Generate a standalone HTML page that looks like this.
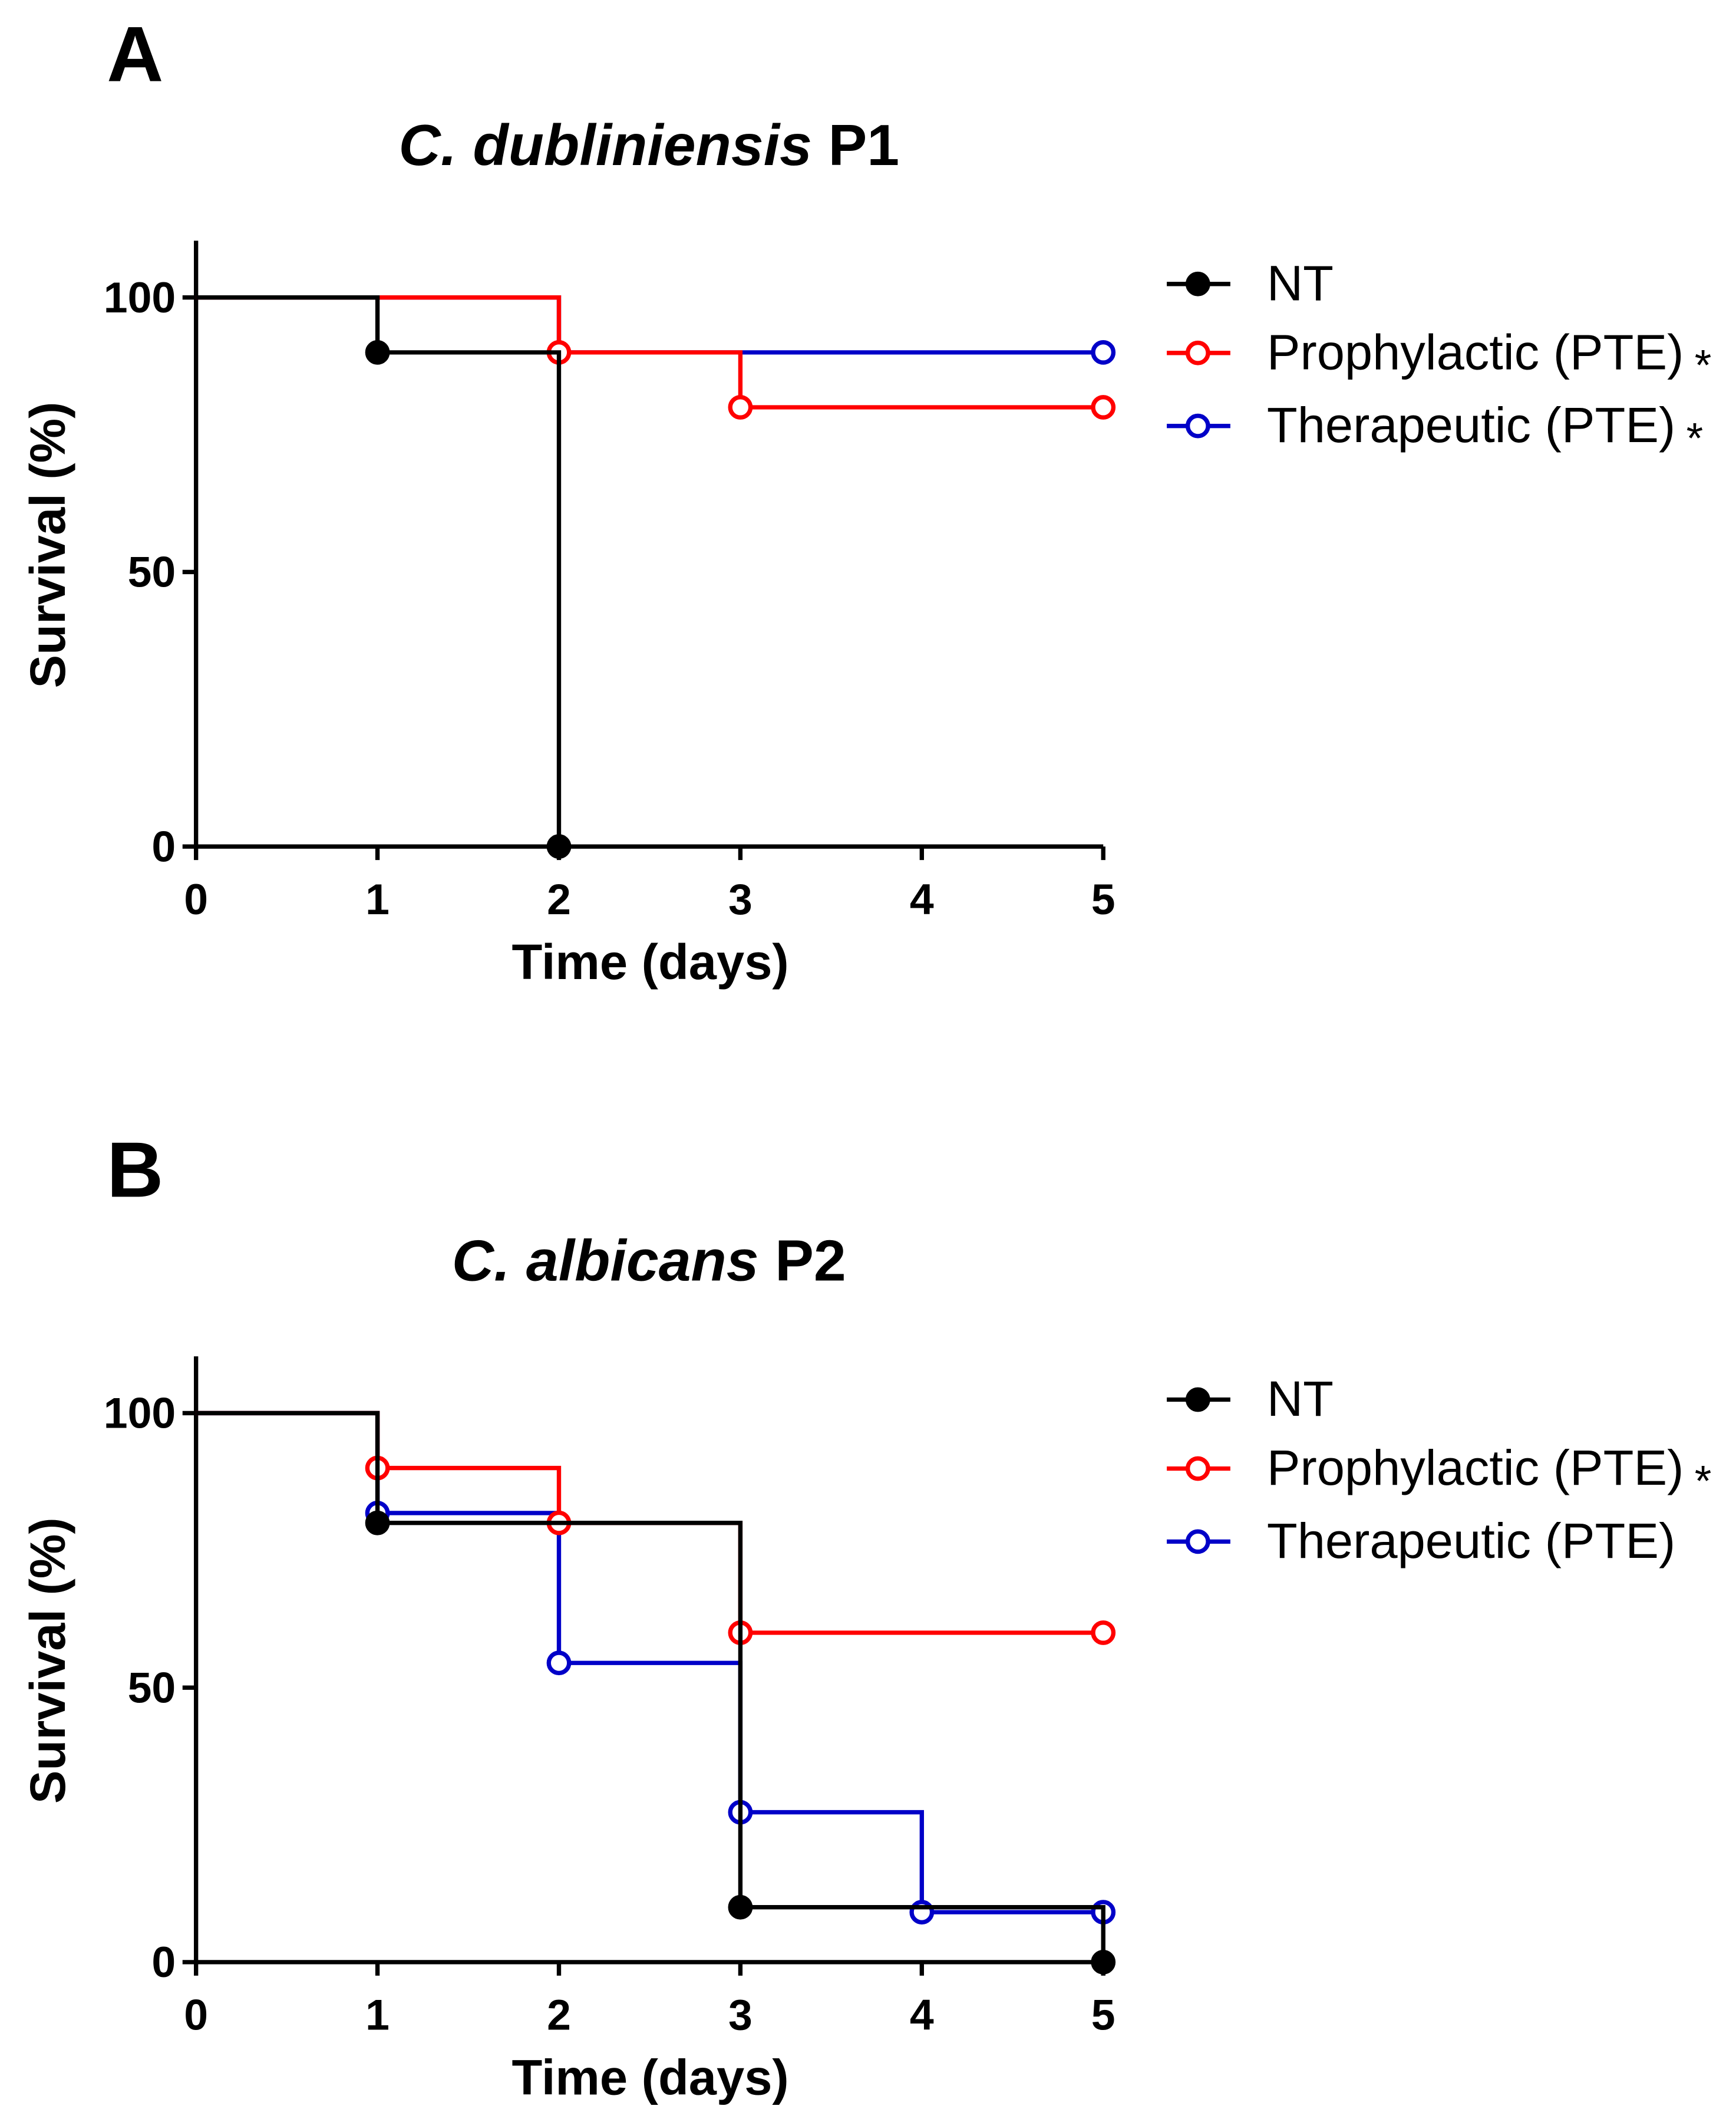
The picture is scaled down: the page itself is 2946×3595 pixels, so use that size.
<!DOCTYPE html>
<html><head><meta charset="utf-8"><style>
html,body{margin:0;padding:0;background:#fff;}
svg{display:block;font-family:"Liberation Sans",Arial,sans-serif;}
</style></head><body>
<svg id="fig" width="2946" height="3595" viewBox="0 0 1284 1567" preserveAspectRatio="none" xmlns="http://www.w3.org/2000/svg"></svg>
<script>
const days = [0,1,2,3,4,5];
const yTicks = [0,50,100];
const aTitle = ["C. dubliniensis","P1"];
const bTitle = ["C. albicans","P2"];
const aNT_t = [0,1,2];       const aNT_v = [100,90,0];
const aPro_t = [0,2,3,5];    const aPro_v = [100,90,80,80];
const aThe_t = [0,2,5];      const aThe_v = [100,90,90];
const bNT_t = [0,1,3,5];     const bNT_v = [100,80,10,0];
const bPro_t = [0,1,2,3,5];  const bPro_v = [100,90,80,60,60];
const bThe_t = [0,1,2,3,4,5]; const bThe_v = [100,81.8,54.5,27.3,9.1,9.1];
const aMarkNT = [1,2]; const aMarkPro=[2,3,5]; const aMarkThe=[5];
const bMarkNT = [1,3,5]; const bMarkPro=[1,2,3,5]; const bMarkThe=[1,2,3,4,5];
const aLegend = ["NT","Prophylactic (PTE)","Therapeutic (PTE)"];
const aStar = [false,true,true];
const bStar = [false,true,false];

const NS="http://www.w3.org/2000/svg";
const svg=document.getElementById('fig');
function mk(tag,attrs,parent){const e=document.createElementNS(NS,tag);for(const k in attrs)e.setAttribute(k,attrs[k]);(parent||svg).appendChild(e);return e;}

function panel(letter,title,top,series,legend,stars,key){
  const g=mk('g',{});
  
  
  const x0=145,x1=816,y100=top+220,y0=top+626;
  const X=d=>x0+(x1-x0)*d/5;
  const Y=v=>y0-(y0-y100)*v/100;
  let t=mk('text',{x:79,y:top+60,'font-size':58,'font-weight':'bold'},g);t.textContent=letter;
  
  
  t=mk('text',{x:480,y:top+122,'font-size':43,'font-weight':'bold','text-anchor':'middle'},g);
  
  
  const s1=mk('tspan',{'font-style':'italic'},t);s1.textContent=title[0]+' ';
  const s2=mk('tspan',{},t);s2.textContent=title[1];
  let ax=mk('path',{d:`M${x0} ${top+178} V${y0} H${x1}`,stroke:'#000','stroke-width':3.2,fill:'none'},g);
  
  
  days.forEach(d=>{
    mk('line',{x1:X(d),x2:X(d),y1:y0,y2:y0+10,stroke:'#000','stroke-width':3.2},g);
    const tt=mk('text',{x:X(d),y:y0+50,'font-size':32,'font-weight':'bold','text-anchor':'middle'},g);
    tt.textContent=d;
    
    
  });
  yTicks.forEach(v=>{
    mk('line',{x1:x0-10,x2:x0,y1:Y(v),y2:Y(v),stroke:'#000','stroke-width':3.2},g);
    const tt=mk('text',{x:x0-15,y:Y(v)+11,'font-size':32,'font-weight':'bold','text-anchor':'end'},g);
    tt.textContent=v;
    
    
  });
  t=mk('text',{x:481,y:top+724,'font-size':37,'font-weight':'bold','text-anchor':'middle'},g);t.textContent='Time (days)';
  
  
  t=mk('text',{x:0,y:0,'font-size':37,'font-weight':'bold','text-anchor':'middle',transform:`translate(48 ${top+403}) rotate(-90)`},g);t.textContent='Survival (%)';
  
  
  [2,1,0].forEach(i=>{
    const s=series[i];
    let d=`M${X(s.t[0])} ${Y(s.v[0])}`;
    for(let k=1;k<s.t.length;k++){d+=` H${X(s.t[k])} V${Y(s.v[k])}`;}
    const p=mk('path',{d,stroke:s.c,'stroke-width':3.2,fill:'none'},g);
    
    
    s.m.forEach(md=>{
      const idx=s.t.indexOf(md);let val;
      if(idx>=0) val=s.v[idx]; else {let j=0;for(let k=0;k<s.t.length;k++) if(s.t[k]<=md) j=k; val=s.v[j];}
      const c=mk('circle',{cx:X(md),cy:Y(val),r:7.5,fill:s.fill?s.c:'#fff',stroke:s.c,'stroke-width':3.2},g);
      
      
    });
  });
  const ly=[top+210,top+261,top+315];
  legend.forEach((name,i)=>{
    const s=series[i];
    const lg=mk('g',{},g);
    
    
    mk('line',{x1:863,x2:910,y1:ly[i],y2:ly[i],stroke:s.c,'stroke-width':3.2},lg);
    mk('circle',{cx:886,cy:ly[i],r:7.5,fill:s.fill?s.c:'#fff',stroke:s.c,'stroke-width':3.2},lg);
    const tx=mk('text',{x:937,y:ly[i]+12,'font-size':37},lg);tx.textContent=name;
    if(stars[i]){const st=mk('tspan',{'font-size':32,dx:8,dy:8},tx);st.textContent='*';}
  });
}
panel('A',aTitle,0,[
  {n:'nt',t:aNT_t,v:aNT_v,m:aMarkNT,c:'#000',fill:true},
  {n:'prophylactic',t:aPro_t,v:aPro_v,m:aMarkPro,c:'#f00',fill:false},
  {n:'therapeutic',t:aThe_t,v:aThe_v,m:aMarkThe,c:'#0000c8',fill:false}],aLegend,aStar,'a');
panel('B',bTitle,825,[
  {n:'nt',t:bNT_t,v:bNT_v,m:bMarkNT,c:'#000',fill:true},
  {n:'prophylactic',t:bPro_t,v:bPro_v,m:bMarkPro,c:'#f00',fill:false},
  {n:'therapeutic',t:bThe_t,v:bThe_v,m:bMarkThe,c:'#0000c8',fill:false}],aLegend,bStar,'b');
</script>
</body></html>
